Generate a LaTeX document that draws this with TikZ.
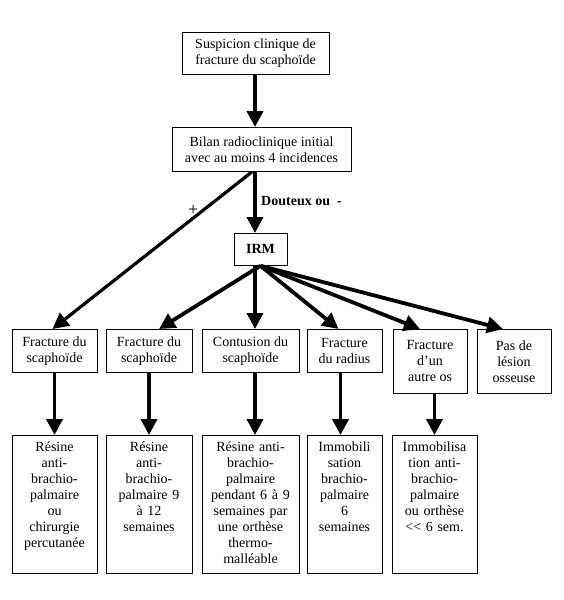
\documentclass[tikz,border=0pt]{standalone}
\usepackage{fontspec}
\setmainfont{Liberation Serif}
\usetikzlibrary{arrows.meta}

\begin{document}
\begin{tikzpicture}[x=1pt,y=-1pt,font=\fontsize{14}{16}\selectfont,
 box/.style={draw,line width=0.8pt,align=center,inner sep=2pt,anchor=north},
 treat/.style={draw,line width=0.8pt,align=center,anchor=north,inner xsep=2pt,inner ysep=6pt,text height=10pt,text depth=116pt},
 arr/.style={-{Triangle[length=16pt,width=16pt]},line width=3.8pt}]
\useasboundingbox (0,0) rectangle (564,600);
\coordinate (axe) at (255,0);
\node[box,minimum width=147pt,minimum height=42pt] (susp) at (255.5,32) {Suspicion clinique de\\fracture du scaphoïde};
\node[box,minimum width=179pt,minimum height=44pt] (bilan) at (261.5,127) {Bilan radioclinique initial\\avec au moins 4 incidences};
\node[box,minimum width=53pt,minimum height=32pt,font=\fontsize{14}{16}\selectfont\bfseries] (irm) at (260.5,233) {IRM};
\draw[arr] (axe |- susp.south) -- (axe |- bilan.north);
\draw[arr] (axe |- bilan.south) -- node[right,font=\fontsize{14}{16}\selectfont\bfseries,xshift=1pt,yshift=1pt] (dout) {Douteux ou \ -} (axe |- irm.north);
% premiere ligne
\node[box,minimum width=85pt,minimum height=43pt] (fsca1) at (54.5,329) {Fracture du\\scaphoïde};
\node[box,minimum width=86pt,minimum height=43pt] (fsca2) at (149,329) {Fracture du\\scaphoïde};
\node[box,minimum width=97pt,minimum height=43pt] (contu) at (250.5,329) {Contusion du\\scaphoïde};
\node[box,minimum width=75pt,minimum height=43pt] (frad) at (344.5,329) {Fracture\\du radius};
\node[box,minimum width=74pt,minimum height=64pt] (fautre) at (430,329) {Fracture\\d’un\\autre os};
\node[box,minimum width=74pt,minimum height=64pt] (pasles) at (514,329) {Pas de\\lésion\\osseuse};
\draw[arr,line width=3.2pt] ([xshift=-3pt]axe |- bilan.south) -- node[above,pos=0.3,xshift=1pt,yshift=-1pt,font=\fontsize{18}{18}\selectfont] (plus) {+} ([xshift=-2pt]fsca1.north);
\draw[arr] (irm.south) -- ([xshift=10pt]fsca2.north);
\draw[arr] (axe |- irm.south) -- (axe |- contu.north);
\draw[arr] (irm.south) -- ([xshift=-6pt]frad.north);
\draw[arr] (irm.south) -- ([xshift=-10pt]fautre.north);
\draw[arr] (irm.south) -- ([xshift=-11pt]pasles.north);
% traitements
\node[treat,text width=81pt] (t1) at (54.5,435) {Résine\\anti-\\brachio-\\palmaire\\ou\\chirurgie\\percutanée};
\node[treat,text width=82pt] (t2) at (149,435) {Résine\\anti-\\brachio-\\palmaire 9\\à 12\\semaines};
\node[treat,text width=93pt] (t3) at (250.5,435) {Résine anti-\\brachio-\\palmaire\\pendant 6 à 9\\semaines par\\une orthèse\\thermo-\\malléable};
\node[treat,text width=71pt] (t4) at (344.5,435) {Immobili\\sation\\brachio-\\palmaire\\6\\semaines};
\node[treat,text width=81pt] (t5) at (434.5,435) {Immobilisa\\tion anti-\\brachio-\\palmaire\\ou orthèse\\<{}< 6 sem.};
\draw[arr] (fsca1.south) -- (fsca1.south |- t1.north);
\draw[arr] (fsca2.south) -- (fsca2.south |- t2.north);
\draw[arr] (axe |- contu.south) -- (axe |- t3.north);
\draw[arr] ([xshift=-4pt]frad.south) -- ([xshift=-4pt]frad.south |- t4.north);
\draw[arr] (t5.north |- fautre.south) -- (t5.north);
\end{tikzpicture}
\end{document}
